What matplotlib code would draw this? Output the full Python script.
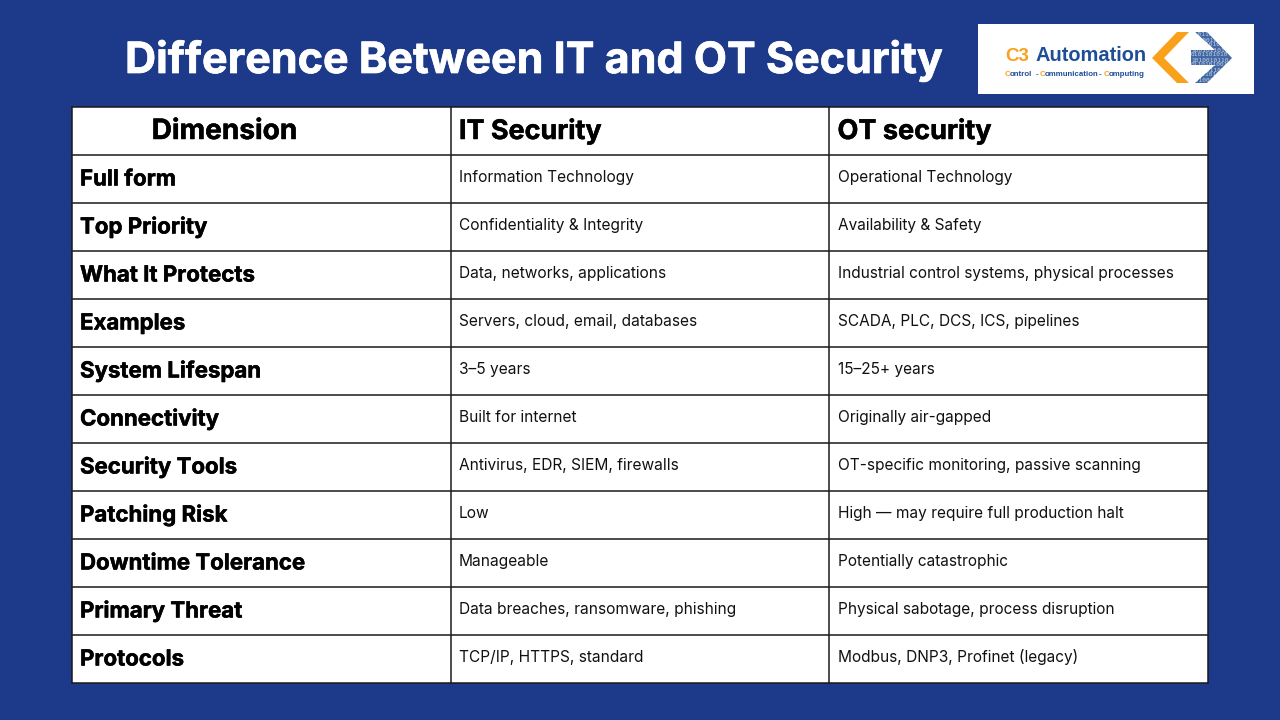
import matplotlib
matplotlib.use('Agg')
from matplotlib import pyplot as plt
from matplotlib.patches import Rectangle, Polygon
import matplotlib.patheffects as pe

BG = '#1d3a8a'
FONT = 'Inter'

title = 'Difference Between IT and OT Security'
headers = ['Dimension', 'IT Security', 'OT security']
dimensions = ['Full form', 'Top Priority', 'What It Protects', 'Examples', 'System Lifespan',
              'Connectivity', 'Security Tools', 'Patching Risk', 'Downtime Tolerance',
              'Primary Threat', 'Protocols']
it_security = ['Information Technology', 'Confidentiality & Integrity', 'Data, networks, applications',
               'Servers, cloud, email, databases', '3–5 years', 'Built for internet',
               'Antivirus, EDR, SIEM, firewalls', 'Low', 'Manageable',
               'Data breaches, ransomware, phishing', 'TCP/IP, HTTPS, standard']
ot_security = ['Operational Technology', 'Availability & Safety',
               'Industrial control systems, physical processes', 'SCADA, PLC, DCS, ICS, pipelines',
               '15–25+ years', 'Originally air-gapped', 'OT-specific monitoring, passive scanning',
               'High — may require full production halt', 'Potentially catastrophic',
               'Physical sabotage, process disruption', 'Modbus, DNP3, Profinet (legacy)']
binary_rows = '\n'.join(['0101101010', '1010010110', '0110101001', '1001011010', '0101101010',
                         '1010010110', '0110101001', '1001011010', '0101101010', '1010010110'])

fig = plt.figure(figsize=(12.8, 7.2), dpi=100, facecolor=BG)
ax = fig.add_axes([0, 0, 1, 1])
ax.set_xlim(0, 1280)
ax.set_ylim(720, 0)
ax.axis('off')

# a bit of stroke, Inter bold is lighter than the original heading font
heavy = [pe.withStroke(linewidth=0.35, foreground='black')]
heavy_w = [pe.withStroke(linewidth=0.5, foreground='white')]

ax.text(534.5, 73, title, color='white', fontsize=31, fontweight='bold', family=FONT,
        ha='center', va='baseline', path_effects=heavy_w)

# table
left, top, col_w, row_h = 72, 107, 378.7, 48
n_rows = len(dimensions) + 1
bottom = top + n_rows * row_h
right = left + 3 * col_w
ax.add_patch(Rectangle((left, top), right - left, bottom - top, fc='white', ec='none'))
for i in range(n_rows + 1):
    ax.plot([left, right], [top + i * row_h] * 2, color='#1a1a1a', lw=1.1, solid_capstyle='projecting')
for j in range(4):
    ax.plot([left + j * col_w] * 2, [top, bottom], color='#1a1a1a', lw=1.1, solid_capstyle='projecting')

ax.text(224.5, top + 32, headers[0], fontsize=20.2, fontweight='bold', family=FONT, ha='center', color='black', path_effects=heavy)
ax.text(459, top + 32, headers[1], fontsize=19.4, fontweight='bold', family=FONT, color='black', path_effects=heavy)
ax.text(837.5, top + 32, headers[2], fontsize=19.5, fontweight='bold', family=FONT, color='black', path_effects=heavy)

for i, (d, a, b) in enumerate(zip(dimensions, it_security, ot_security)):
    y = top + (i + 1.5) * row_h
    ax.text(80, y + 6.5, d, fontsize=16, fontweight='bold', family=FONT, color='black', path_effects=heavy)
    ax.text(459, y + 3, a, fontsize=11.15, family=FONT, color='#111111')
    ax.text(837.5, y + 3, b, fontsize=11.1, family=FONT, color='#111111')

# logo
ORANGE = '#f9a11b'
NAVY = '#1f4e96'
LOGO_FONT = 'Liberation Sans'
ax.add_patch(Rectangle((978, 24), 276, 70, fc='white', ec='none'))
ax.text(1005, 61, 'C3', color=ORANGE, fontsize=13.5, fontweight='bold', family=LOGO_FONT)
ax.text(1035, 61, 'Automation', color=NAVY, fontsize=14.4, fontweight='bold', family=LOGO_FONT)
for x, s, c in [(1005, 'C', ORANGE), (1009.5, 'ontrol', NAVY), (1036, '-', NAVY),
                (1040, 'C', ORANGE), (1044.5, 'ommunication', NAVY), (1099, '-', NAVY),
                (1104, 'C', ORANGE), (1108.5, 'omputing', NAVY)]:
    ax.text(x, 76.5, s, color=c, fontsize=5.7, fontweight='bold', family=LOGO_FONT)
ax.add_patch(Polygon([(1152, 58), (1177, 32), (1189, 32), (1164, 58), (1189, 83), (1177, 83)], fc=ORANGE, ec='none'))
arrow = Polygon([(1195, 32), (1207, 32), (1232, 58), (1207, 83), (1195, 83), (1215, 65),
                 (1191, 65), (1191, 50), (1215, 50)], fc=NAVY, ec='none', alpha=0.85)
ax.add_patch(arrow)
digits = ax.text(1191, 57.5, binary_rows, color='white', fontsize=4.4, family='DejaVu Sans Mono', va='center',
                 linespacing=1.0, alpha=0.7)
digits.set_clip_path(arrow)

fig.savefig('out.png', dpi=100, facecolor=BG)
